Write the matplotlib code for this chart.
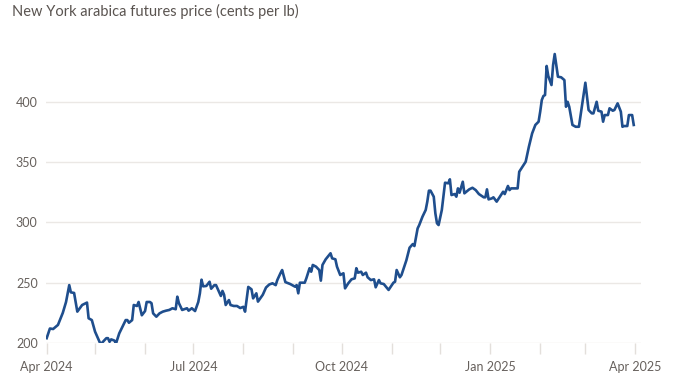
import matplotlib
matplotlib.use("Agg")
import matplotlib.pyplot as plt
import matplotlib.dates as mdates
import pandas as pd

title = "New York arabica futures price (cents per lb)"

dates = [
    "2024-04-01", "2024-04-03", "2024-04-05", "2024-04-08", "2024-04-11", "2024-04-13",
    "2024-04-15", "2024-04-16", "2024-04-18", "2024-04-20", "2024-04-23", "2024-04-26",
    "2024-04-27", "2024-04-29", "2024-05-01", "2024-05-04", "2024-05-05", "2024-05-08",
    "2024-05-09", "2024-05-10", "2024-05-11", "2024-05-13", "2024-05-14", "2024-05-16",
    "2024-05-17", "2024-05-20", "2024-05-21", "2024-05-22", "2024-05-24", "2024-05-25",
    "2024-05-27", "2024-05-28", "2024-05-30", "2024-06-01", "2024-06-02", "2024-06-04",
    "2024-06-05", "2024-06-06", "2024-06-08", "2024-06-10", "2024-06-12", "2024-06-14",
    "2024-06-16", "2024-06-18", "2024-06-20", "2024-06-21", "2024-06-22", "2024-06-24",
    "2024-06-27", "2024-06-28", "2024-06-30", "2024-07-02", "2024-07-04", "2024-07-05",
    "2024-07-06", "2024-07-07", "2024-07-09", "2024-07-11", "2024-07-12", "2024-07-14",
    "2024-07-15", "2024-07-17", "2024-07-18", "2024-07-19", "2024-07-20", "2024-07-21",
    "2024-07-23", "2024-07-24", "2024-07-26", "2024-07-28", "2024-07-30", "2024-08-01",
    "2024-08-02", "2024-08-04", "2024-08-06", "2024-08-07", "2024-08-09", "2024-08-10",
    "2024-08-13", "2024-08-15", "2024-08-17", "2024-08-19", "2024-08-21", "2024-08-22",
    "2024-08-24", "2024-08-25", "2024-08-27", "2024-08-30", "2024-09-02", "2024-09-03",
    "2024-09-04", "2024-09-05", "2024-09-08", "2024-09-09", "2024-09-11", "2024-09-12",
    "2024-09-13", "2024-09-15", "2024-09-17", "2024-09-18", "2024-09-19", "2024-09-21",
    "2024-09-24", "2024-09-25", "2024-09-27", "2024-09-28", "2024-09-30", "2024-10-02",
    "2024-10-03", "2024-10-05", "2024-10-07", "2024-10-09", "2024-10-10", "2024-10-11",
    "2024-10-13", "2024-10-14", "2024-10-16", "2024-10-17", "2024-10-19", "2024-10-21",
    "2024-10-22", "2024-10-24", "2024-10-25", "2024-10-27", "2024-10-30", "2024-11-02",
    "2024-11-03", "2024-11-04", "2024-11-06", "2024-11-07", "2024-11-10", "2024-11-12",
    "2024-11-14", "2024-11-15", "2024-11-17", "2024-11-18", "2024-11-20", "2024-11-22",
    "2024-11-23", "2024-11-24", "2024-11-25", "2024-11-27", "2024-11-28", "2024-11-29",
    "2024-11-30", "2024-12-02", "2024-12-03", "2024-12-04", "2024-12-06", "2024-12-07",
    "2024-12-08", "2024-12-10", "2024-12-11", "2024-12-12", "2024-12-13", "2024-12-15",
    "2024-12-16", "2024-12-19", "2024-12-21", "2024-12-23", "2024-12-25", "2024-12-28",
    "2024-12-29", "2024-12-30", "2024-12-31", "2025-01-02", "2025-01-03", "2025-01-05",
    "2025-01-07", "2025-01-09", "2025-01-10", "2025-01-12", "2025-01-13", "2025-01-14",
    "2025-01-17", "2025-01-18", "2025-01-19", "2025-01-21", "2025-01-23", "2025-01-25",
    "2025-01-27", "2025-01-29", "2025-01-31", "2025-02-01", "2025-02-02", "2025-02-03",
    "2025-02-04", "2025-02-05", "2025-02-06", "2025-02-08", "2025-02-09", "2025-02-10",
    "2025-02-12", "2025-02-14", "2025-02-16", "2025-02-17", "2025-02-18", "2025-02-19",
    "2025-02-21", "2025-02-23", "2025-02-25", "2025-02-27", "2025-03-01", "2025-03-03",
    "2025-03-05", "2025-03-06", "2025-03-08", "2025-03-09", "2025-03-11", "2025-03-12",
    "2025-03-13", "2025-03-15", "2025-03-16", "2025-03-18", "2025-03-19", "2025-03-21",
    "2025-03-23", "2025-03-24", "2025-03-25", "2025-03-27", "2025-03-28", "2025-03-30",
    "2025-03-31",
]

prices = [
    204.0, 212.0, 211.6, 215.0, 225.0, 234.0,
    248.0, 242.0, 241.5, 226.0, 231.5, 233.5,
    220.5, 219.0, 209.4, 200.3, 199.7, 204.0,
    204.0, 201.0, 203.0, 202.0, 199.7, 208.0,
    210.8, 219.0, 219.0, 216.8, 219.0, 231.5,
    230.7, 234.0, 223.0, 226.5, 234.0, 234.0,
    233.0, 224.6, 221.8, 224.6, 226.0, 226.8,
    227.4, 228.8, 228.0, 238.4, 233.0, 227.4,
    228.8, 226.8, 228.8, 226.5, 234.0, 241.2,
    252.5, 247.0, 247.3, 250.8, 245.0, 248.0,
    248.0, 242.0, 239.0, 243.2, 240.0, 231.5,
    235.6, 231.5, 230.7, 230.7, 229.0, 230.0,
    226.0, 246.5, 244.5, 237.0, 241.2, 234.3,
    240.0, 246.0, 248.5, 249.5, 248.0, 252.2,
    258.0, 260.5, 250.5, 248.9, 246.7, 248.0,
    241.2, 250.0, 250.0, 253.6, 262.0, 259.1,
    264.7, 263.3, 260.5, 251.7, 264.7, 269.4,
    274.4, 270.2, 269.4, 263.3, 256.4, 257.8,
    245.3, 249.5, 252.8, 253.6, 262.0, 258.3,
    259.1, 256.4, 258.3, 254.5, 252.2, 252.8,
    246.2, 252.2, 249.5, 248.9, 244.0, 250.0,
    250.8, 260.5, 254.5, 256.4, 268.5, 279.0,
    282.0, 280.4, 295.0, 297.8, 304.7, 310.3,
    317.2, 326.3, 326.3, 321.3, 307.5, 299.3,
    297.8, 310.3, 321.9, 332.9, 332.4, 335.7,
    322.7, 323.5, 321.3, 328.2, 324.6, 333.7,
    324.1, 327.4, 328.7, 326.8, 323.5, 320.8,
    320.8, 327.4, 319.1, 319.9, 320.8, 317.2,
    321.3, 325.4, 323.5, 330.2, 326.8, 328.2,
    328.2, 328.2, 342.0, 346.2, 350.3, 362.8,
    373.8, 380.8, 383.5, 391.8, 401.5, 404.8,
    405.6, 429.7, 421.4, 413.9, 430.5, 439.6,
    420.8, 420.3, 418.0, 395.9, 400.0, 395.9,
    380.8, 379.3, 379.3, 397.3, 415.8, 393.2,
    390.4, 390.4, 400.0, 392.6, 391.8, 383.5,
    389.0, 389.0, 394.6, 392.6, 393.2, 398.7,
    391.8, 379.3, 379.9, 379.9, 389.0, 389.0,
    380.8,
]

y_ticks = [200, 250, 300, 350, 400]
x_tick_dates = ["2024-04-01", "2024-07-01", "2024-10-01", "2025-01-01", "2025-04-01"]
x_tick_labels = ["Apr 2024", "Jul 2024", "Oct 2024", "Jan 2025", "Apr 2025"]

plt.rcParams['font.family'] = ['Lato', 'DejaVu Sans']

fig = plt.figure(figsize=(7.0, 3.88), dpi=100)
ax = fig.add_axes([46/700, 1-343/388, (641-46)/700, (343-48)/388])

x = pd.to_datetime(dates)
ax.plot(x, prices, color='#1f4e8d', lw=1.9, solid_joinstyle='round', zorder=3)

ax.set_ylim(200, 444.6)
ax.set_xlim(pd.Timestamp("2024-03-31 14:00"), pd.Timestamp("2025-04-04 12:00"))

ax.set_yticks(y_ticks)
ax.set_yticklabels([str(v) for v in y_ticks])
ax.yaxis.grid(True, color='#ebe8e5', lw=1.0, zorder=0)
ax.tick_params(axis='y', length=0, pad=6, labelsize=9, labelcolor='#66605c')

ax.set_xticks(pd.to_datetime(x_tick_dates))
ax.set_xticklabels(x_tick_labels)
ax.xaxis.set_minor_locator(mdates.MonthLocator())
ax.tick_params(axis='x', which='both', length=8, width=1, color='#e3dfdb',
               pad=5, labelsize=9, labelcolor='#66605c')

for s in ax.spines.values():
    s.set_visible(False)

fig.text(12/700, 1-16/388, title, fontsize=10.5, color='#5a5450',
         ha='left', va='baseline')

fig.savefig("out.png", dpi=100, facecolor='white')
